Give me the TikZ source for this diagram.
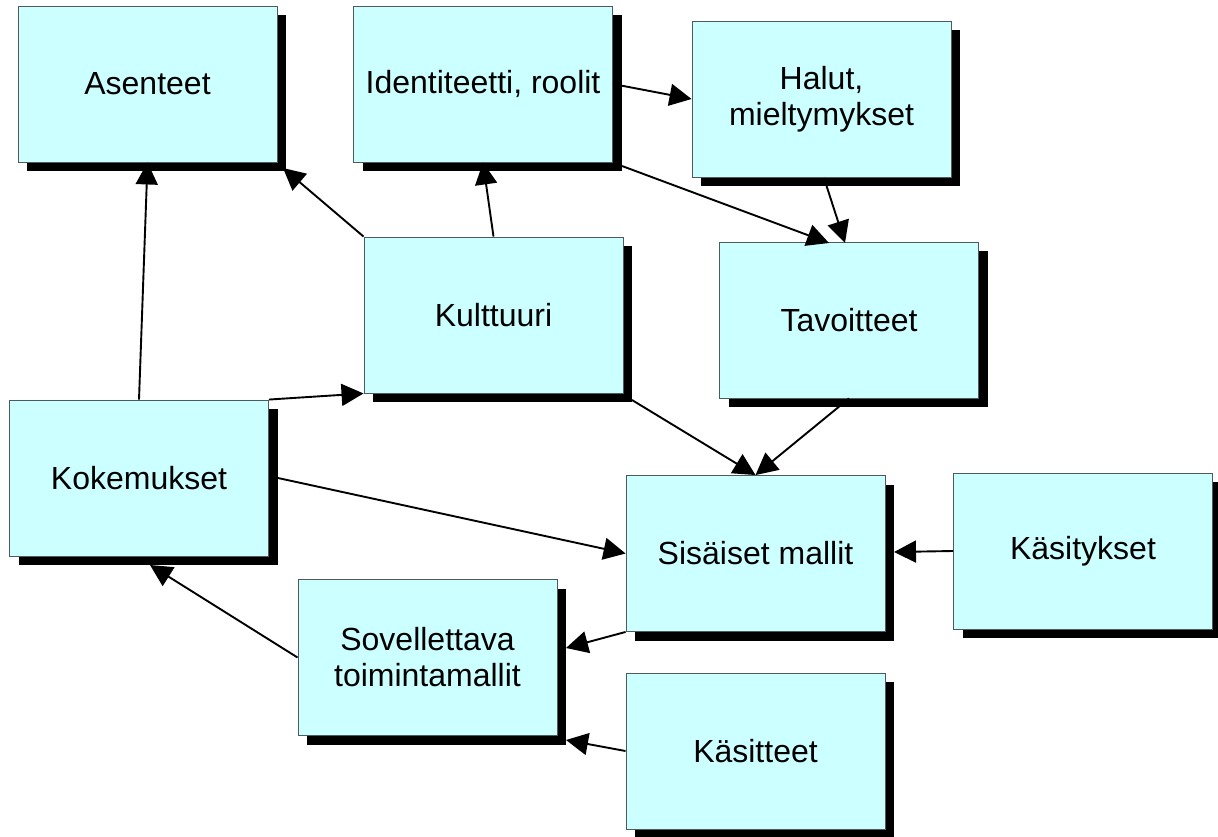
\documentclass[tikz,border=0pt]{standalone}
\usepackage{fontspec}
\setmainfont{Liberation Sans}
\usetikzlibrary{shadows,arrows.meta,calc}
\definecolor{boxfill}{RGB}{204,255,255}
\definecolor{boxline}{RGB}{80,90,90}
\begin{document}
\begin{tikzpicture}[x=1pt,y=-1pt,
  box/.style={draw=boxline, line width=0.9pt, fill=boxfill,
    minimum width=259pt, minimum height=156pt, inner sep=0pt,
    align=center, font=\fontsize{32}{36}\selectfont,
    drop shadow={shadow xshift=9pt, shadow yshift=-9pt, fill=black, opacity=1}},
  arr/.style={line width=1.9pt, -{Triangle[length=22pt,width=22pt]}}]
\useasboundingbox (0,0) rectangle (1218,836);
\node[box] (ase) at (147.5,84) {Asenteet};
\node[box] (ide) at (483,84) {Identiteetti, roolit};
\node[box] (hal) at (821.5,99) {Halut,\\mieltymykset};
\node[box] (kul) at (493.5,315) {Kulttuuri};
\node[box] (tav) at (849,320) {Tavoitteet};
\node[box] (kok) at (139,478) {Kokemukset};
\node[box] (sis) at (755.5,553.5) {Sisäiset mallit};
\node[box] (kay) at (1083,551) {Käsitykset};
\node[box] (sov) at (427.5,657.5) {Sovellettava\\toimintamallit};
\node[box] (kat) at (755.5,751) {Käsitteet};
\coordinate (ase-c) at (283,168);
\coordinate (ide-br) at (622,166);
\coordinate (hal-b) at (824,178);
\coordinate (tav-l) at (829,243);
\coordinate (tav-r) at (845,243);
\coordinate (kul-br) at (632,400);
\coordinate (kok-r) at (278,478);
\coordinate (sis-r) at (894,552);
\coordinate (sov-r1) at (566,648);
\coordinate (sov-r2) at (566,740);
\coordinate (kok-b) at (150,565);
\draw[arr] (kok.north) -- (ase.south);
\draw[arr] (kul.north west) -- (ase-c);
\draw[arr] (kul.north) -- (ide.south);
\draw[arr] (ide.east) -- (hal.west);
\draw[arr] (ide-br) -- (tav-l);
\draw[arr] (hal-b) -- (tav-r);
\draw[arr] (kul-br) -- (sis.north);
\draw[arr] (tav.south) -- (sis.north);
\draw[arr] (kok.north east) -- (kul.south west);
\draw[arr] (kok-r) -- (sis.west);
\draw[arr] (kay.west) -- (sis-r);
\draw[arr] (sis.south west) -- (sov-r1);
\draw[arr] (kat.west) -- (sov-r2);
\draw[arr] (sov.west) -- (kok-b);
\end{tikzpicture}
\end{document}
